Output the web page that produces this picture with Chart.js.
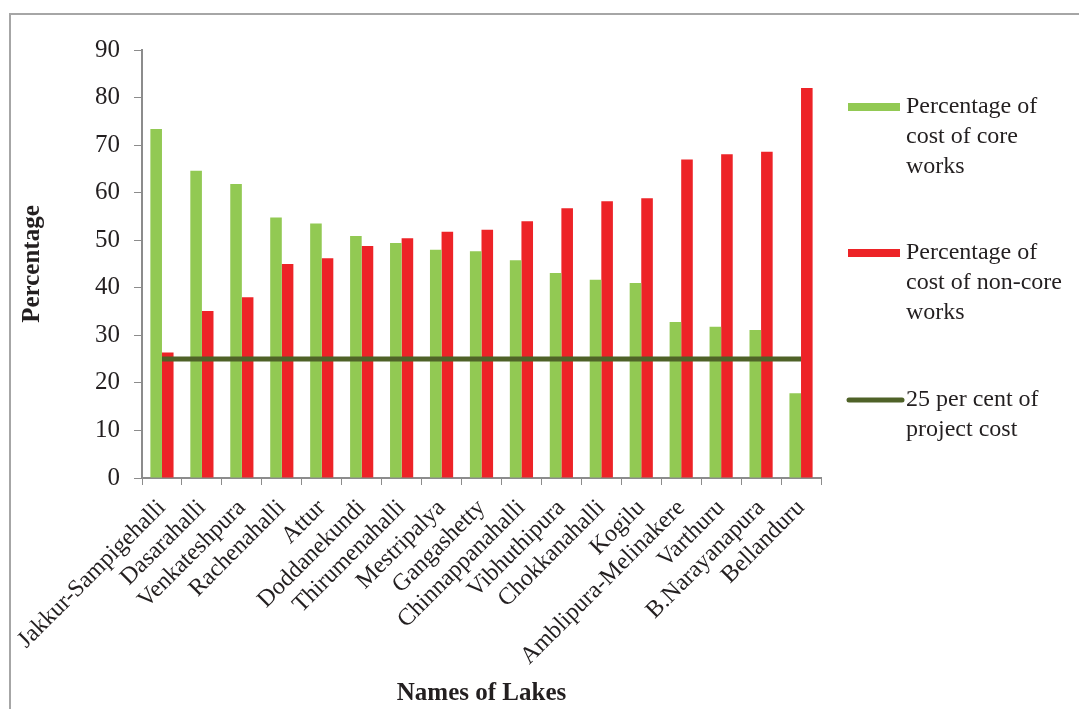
<!DOCTYPE html>
<html>
<head>
<meta charset="utf-8">
<script src="https://cdn.jsdelivr.net/npm/chart.js"></script>
<style>
  body { margin: 0; background: #fff; overflow: hidden; }
  #frame { position: absolute; left: 9px; top: 13px; width: 1100px; height: 720px; border: 2px solid #a6a6a6; }
  #wrap { position: absolute; left: 0; top: 0; width: 1079px; height: 709px; }
</style>
</head>
<body>
<div id="frame"></div>
<div id="wrap"><canvas id="myChart" width="1079" height="709"></canvas></div>
<script>
// lake names along the x axis
const lakes = ['Jakkur-Sampigehalli', 'Dasarahalli', 'Venkateshpura', 'Rachenahalli', 'Attur',
  'Doddanekundi', 'Thirumenahalli', 'Mestripalya', 'Gangashetty', 'Chinnappanahalli',
  'Vibhuthipura', 'Chokkanahalli', 'Kogilu', 'Amblipura-Melinakere', 'Varthuru',
  'B.Narayanapura', 'Bellanduru'];

const coreWorks = [73.4, 64.6, 61.8, 54.8, 53.5, 50.9, 49.4, 48.0, 47.7, 45.8, 43.1, 41.7, 41.0, 32.8, 31.8, 31.1, 17.8];
const nonCoreWorks = [26.4, 35.1, 38.0, 45.0, 46.2, 48.8, 50.4, 51.8, 52.2, 54.0, 56.7, 58.2, 58.8, 67.0, 68.1, 68.6, 82.0];
const quarterCost = lakes.map(() => 25);

const yTicks = [0, 10, 20, 30, 40, 50, 60, 70, 80, 90];

// legend text, wrapped like the original
const legendText = [
  ['Percentage of', 'cost of core', 'works'],
  ['Percentage of', 'cost of non-core', 'works'],
  ['25 per cent of', 'project cost']
];

const FONT = '"Liberation Serif", "Times New Roman", serif';

// draws the wrapped legend on the right
const sideLegend = {
  id: 'sideLegend',
  afterDraw(chart) {
    const ctx = chart.ctx;
    const tops = [107, 253, 400];
    ctx.save();
    ctx.font = '24px ' + FONT;
    ctx.textBaseline = 'middle';
    chart.data.datasets.forEach((ds, i) => {
      const y = tops[i];
      if (ds.type === 'line') {
        ctx.strokeStyle = ds.borderColor;
        ctx.lineWidth = 5;
        ctx.lineCap = 'round';
        ctx.beginPath();
        ctx.moveTo(849, y);
        ctx.lineTo(902, y);
        ctx.stroke();
      } else {
        ctx.fillStyle = ds.backgroundColor;
        ctx.fillRect(848, y - 4, 52, 8);
      }
      ctx.fillStyle = '#231f20';
      legendText[i].forEach((t, k) => ctx.fillText(t, 906, y + k * 30));
    });
    ctx.restore();
  }
};

const ctx = document.getElementById('myChart');
new Chart(ctx, {
  type: 'bar',
  data: {
    labels: lakes,
    datasets: [
      {
        label: 'Percentage of cost of core works',
        data: coreWorks,
        backgroundColor: '#92c953',
        categoryPercentage: 0.58,
        barPercentage: 1,
        order: 1
      },
      {
        label: 'Percentage of cost of non-core works',
        data: nonCoreWorks,
        backgroundColor: '#ed2327',
        categoryPercentage: 0.58,
        barPercentage: 1,
        order: 1
      },
      {
        type: 'line',
        label: '25 per cent of project cost',
        data: quarterCost,
        borderColor: '#4f6228',
        borderWidth: 5,
        pointRadius: 0,
        order: 0
      }
    ]
  },
  options: {
    responsive: false,
    animation: false,
    devicePixelRatio: 1,
    layout: { padding: { left: 18, top: 50, right: 258, bottom: 0 } },
    plugins: { legend: { display: false }, tooltip: { enabled: false } },
    scales: {
      x: {
        offset: true,
        grid: { offset: true, drawOnChartArea: false, drawTicks: true, tickLength: 7, color: '#8c8c8c' },
        border: { color: '#8c8c8c', width: 2 },
        ticks: {
          autoSkip: false, maxRotation: 45, minRotation: 45,
          color: '#231f20', font: { family: FONT, size: 24 }, padding: 9
        },
        title: { display: true, text: 'Names of Lakes', color: '#231f20', font: { family: FONT, size: 25, weight: 'bold' }, padding: { top: 0, bottom: 0 } },
        afterFit(scale) { scale.height = 231; }
      },
      y: {
        min: 0,
        max: 90,
        afterBuildTicks(scale) { scale.ticks = yTicks.map(v => ({ value: v })); },
        grid: { drawOnChartArea: false, drawTicks: true, tickLength: 8, color: '#8c8c8c' },
        border: { color: '#8c8c8c', width: 2 },
        ticks: { color: '#231f20', font: { family: FONT, size: 25 }, padding: 14 },
        title: { display: true, text: 'Percentage', color: '#231f20', font: { family: FONT, size: 25, weight: 'bold' }, padding: { top: 0, bottom: 0 } },
        afterFit(scale) { scale.width = 124; }
      }
    }
  },
  plugins: [sideLegend]
});
</script>
</body>
</html>
